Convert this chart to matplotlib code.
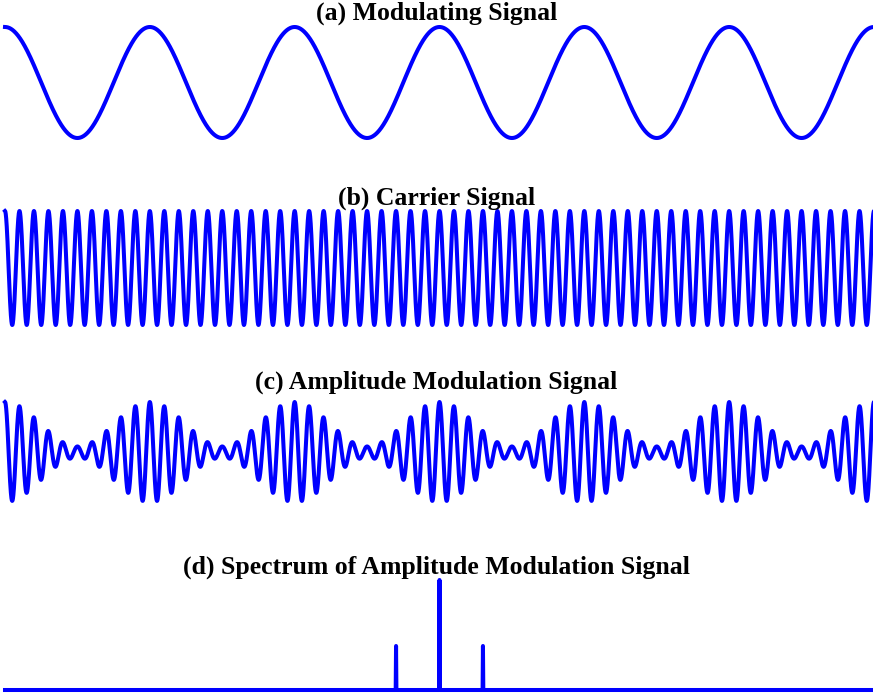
import numpy as np
import matplotlib
matplotlib.use('Agg')
import matplotlib.pyplot as plt

# signal parameters
fm = 6.0        # modulating frequency (6 cycles shown)
fc = 60.0       # carrier frequency (60 cycles shown)
m = 0.8         # modulation index
duration = 1.0

# spectrum peaks: lower sideband, carrier, upper sideband
peak_freqs = [54.0, 60.0, 66.0]
peak_amps = [0.4, 1.0, 0.4]
f_max = 120.0

titles = ['(a) Modulating Signal',
          '(b) Carrier Signal',
          '(c) Amplitude Modulation Signal',
          '(d) Spectrum of Amplitude Modulation Signal']

t = np.linspace(0, duration, 8000)
modulating = np.cos(2*np.pi*fm*t)
carrier = np.cos(2*np.pi*fc*t)
am = (1 + m*modulating)*carrier

freq = np.linspace(0, f_max, 2401)
spec = np.zeros_like(freq)
for f0, a in zip(peak_freqs, peak_amps):
   spec[np.argmin(np.abs(freq - f0))] = a

W, H = 873, 700
fig = plt.figure(figsize=(W/100, H/100), dpi=100)
plt.rcParams['font.family'] = ['Liberation Serif', 'DejaVu Serif']

blue = '#0000ff'
lw = 2.9
left = 5/W
width = 1.0 - left
xend = 868/869*duration

def make_ax(ytop, ybot):
   ax = fig.add_axes([left, 1 - ybot/H, width, (ybot - ytop)/H])
   ax.set_axis_off()
   return ax

ax1 = make_ax(27, 138)
ax1.plot(t, modulating, color=blue, lw=lw, clip_on=False)
ax1.set_xlim(0, xend); ax1.set_ylim(-1, 1)

ax2 = make_ax(211, 325)
ax2.plot(t, carrier, color=blue, lw=lw, clip_on=False)
ax2.set_xlim(0, xend); ax2.set_ylim(-1, 1)

ax3 = make_ax(402, 502)
ax3.plot(t, am, color=blue, lw=lw, clip_on=False)
ax3.set_xlim(0, xend); ax3.set_ylim(-(1 + m), 1 + m)

ax4 = make_ax(580, 690)
ax4.plot(freq, spec, color=blue, lw=lw, clip_on=False)
ax4.set_xlim(0, f_max*868/869); ax4.set_ylim(0, 1)

for i, title in enumerate(titles):
   y = 13.5 + 184.5*i
   fig.text(0.5, 1 - y/H, title, ha='center', va='center',
            fontsize=18.5, fontweight='bold')

fig.savefig('out.png', dpi=100)
